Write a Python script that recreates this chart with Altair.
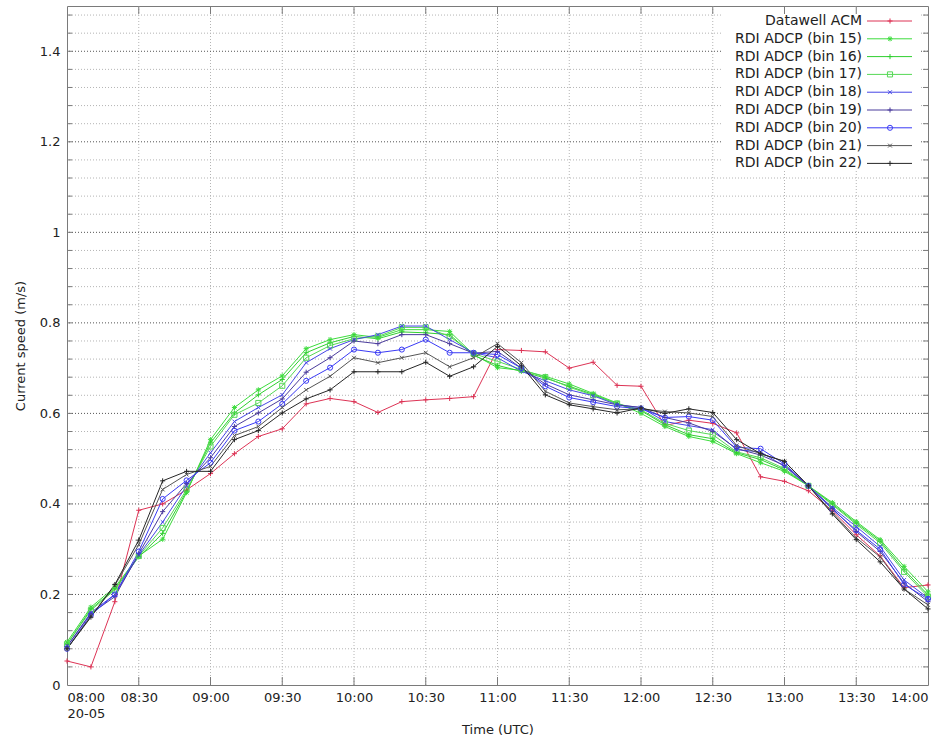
import altair as alt
import pandas as pd

# 10-minute sampling, 08:00-14:00 on 20 May
times = pd.date_range("2010-05-20 08:00", "2010-05-20 14:00", freq="10min")
tick_times = pd.date_range("2010-05-20 08:00", "2010-05-20 14:00", freq="30min")

series_names = [
    "Datawell ACM",
    "RDI ADCP (bin 15)",
    "RDI ADCP (bin 16)",
    "RDI ADCP (bin 17)",
    "RDI ADCP (bin 18)",
    "RDI ADCP (bin 19)",
    "RDI ADCP (bin 20)",
    "RDI ADCP (bin 21)",
    "RDI ADCP (bin 22)",
]
series_colors = ["#dd3355", "#3ddc3d", "#2fcf2f", "#55d855", "#4646e6",
                 "#4b3c9c", "#3a3af5", "#555555", "#262626"]

PLUS = "M-1,0L1,0M0,-1L0,1"
CROSS = "M-0.75,-0.75L0.75,0.75M-0.75,0.75L0.75,-0.75"
STAR = PLUS + CROSS
series_shapes = [PLUS, STAR, PLUS, "square", CROSS, PLUS, "circle", CROSS, PLUS]

# current speed (m/s)
acm = [0.053, 0.040, 0.184, 0.386, 0.400, 0.431, 0.467, 0.511, 0.549, 0.566,
       0.621, 0.633, 0.626, 0.602, 0.626, 0.630, 0.633, 0.637, 0.741, 0.739,
       0.736, 0.700, 0.713, 0.662, 0.660, 0.573, 0.585, 0.578, 0.557, 0.460,
       0.450, 0.429, 0.385, 0.332, 0.285, 0.215, 0.221]
bin15 = [0.095, 0.172, 0.216, 0.285, 0.322, 0.425, 0.542, 0.613, 0.652, 0.683,
         0.743, 0.763, 0.774, 0.768, 0.785, 0.785, 0.781, 0.730, 0.701, 0.695,
         0.682, 0.665, 0.644, 0.623, 0.600, 0.571, 0.549, 0.538, 0.511, 0.491,
         0.472, 0.440, 0.403, 0.361, 0.321, 0.262, 0.206]
bin16 = [0.090, 0.168, 0.212, 0.283, 0.335, 0.428, 0.535, 0.601, 0.641, 0.675,
         0.734, 0.756, 0.770, 0.765, 0.780, 0.778, 0.774, 0.728, 0.706, 0.693,
         0.678, 0.660, 0.642, 0.621, 0.606, 0.575, 0.553, 0.544, 0.513, 0.498,
         0.475, 0.440, 0.400, 0.358, 0.318, 0.255, 0.199]
bin17 = [0.090, 0.165, 0.210, 0.285, 0.347, 0.432, 0.527, 0.597, 0.623, 0.661,
         0.723, 0.750, 0.765, 0.770, 0.790, 0.790, 0.770, 0.732, 0.715, 0.697,
         0.680, 0.658, 0.640, 0.622, 0.608, 0.578, 0.562, 0.553, 0.515, 0.502,
         0.478, 0.440, 0.398, 0.355, 0.314, 0.250, 0.195]
bin18 = [0.085, 0.160, 0.200, 0.287, 0.360, 0.440, 0.513, 0.582, 0.613, 0.641,
         0.712, 0.743, 0.763, 0.774, 0.793, 0.793, 0.763, 0.734, 0.723, 0.693,
         0.672, 0.652, 0.639, 0.619, 0.613, 0.582, 0.573, 0.564, 0.520, 0.515,
         0.483, 0.440, 0.392, 0.350, 0.306, 0.232, 0.192]
bin19 = [0.085, 0.158, 0.195, 0.290, 0.383, 0.445, 0.502, 0.571, 0.601, 0.632,
         0.691, 0.723, 0.760, 0.754, 0.774, 0.774, 0.754, 0.733, 0.737, 0.700,
         0.665, 0.641, 0.630, 0.619, 0.613, 0.591, 0.579, 0.560, 0.522, 0.508,
         0.485, 0.440, 0.390, 0.339, 0.295, 0.225, 0.184]
bin20 = [0.080, 0.155, 0.200, 0.295, 0.411, 0.452, 0.491, 0.562, 0.582, 0.621,
         0.672, 0.701, 0.741, 0.734, 0.741, 0.763, 0.734, 0.734, 0.730, 0.700,
         0.660, 0.635, 0.625, 0.615, 0.610, 0.591, 0.593, 0.585, 0.525, 0.522,
         0.488, 0.440, 0.388, 0.342, 0.300, 0.222, 0.190]
bin21 = [0.080, 0.152, 0.220, 0.310, 0.432, 0.465, 0.483, 0.551, 0.571, 0.613,
         0.652, 0.682, 0.723, 0.712, 0.723, 0.734, 0.703, 0.723, 0.754, 0.712,
         0.649, 0.623, 0.615, 0.608, 0.610, 0.604, 0.601, 0.593, 0.529, 0.511,
         0.494, 0.440, 0.381, 0.325, 0.283, 0.212, 0.177]
bin22 = [0.080, 0.150, 0.222, 0.320, 0.451, 0.472, 0.472, 0.542, 0.562, 0.601,
         0.632, 0.652, 0.692, 0.692, 0.692, 0.713, 0.682, 0.703, 0.748, 0.705,
         0.641, 0.619, 0.610, 0.601, 0.612, 0.600, 0.610, 0.602, 0.542, 0.511,
         0.494, 0.440, 0.378, 0.321, 0.272, 0.212, 0.168]

speeds = [acm, bin15, bin16, bin17, bin18, bin19, bin20, bin21, bin22]

y_labels = [0, 0.2, 0.4, 0.6, 0.8, 1.0, 1.2, 1.4]
y_fine = [round(0.04 * k, 2) for k in range(1, 38)]
y_minor = [v for v in y_fine if round(v / 0.2, 6) % 1 != 0]
y_major = [v for v in y_fine if round(v / 0.2, 6) % 1 == 0]

rows = []
for name, vals in zip(series_names, speeds):
    for t, v in zip(times, vals):
        rows.append({"series": name, "t": t, "v": v})
df = pd.DataFrame(rows)

W, H = 861, 679
FONT = "DejaVu Sans"
FRAME = "#7a7a7a"


def dt(ts):
    return alt.DateTime(year=ts.year, month=ts.month, date=ts.day,
                        hours=ts.hour, minutes=ts.minute)


x_scale = alt.Scale(domain=[dt(times[0]), dt(times[-1])])
y_scale = alt.Scale(domain=[0, 1.5], nice=False, zero=True)

x_axis = alt.Axis(
    values=[dt(t) for t in tick_times],
    labelExpr="timeFormat(datum.value, '%H:%M') == '08:00' ? "
              "['08:00', timeFormat(datum.value, '%d-%m')] : "
              "timeFormat(datum.value, '%H:%M')",
    grid=False, ticks=False, domain=False,
    labelPadding=6, labelFont=FONT, labelFontSize=13, labelColor="#222",
    labelLineHeight=16, labelBaseline="top",
    title="Time (UTC)", titleFont=FONT, titleFontSize=13,
    titleFontWeight="normal", titleColor="#222", titlePadding=3,
)
y_axis = alt.Axis(
    values=y_labels, format="~g",
    grid=False, ticks=False, domain=False,
    labelPadding=7, labelFont=FONT, labelFontSize=13, labelColor="#222",
    title="Current speed (m/s)", titleFont=FONT, titleFontSize=13,
    titleFontWeight="normal", titleColor="#222", titlePadding=12,
)

X = alt.X("t:T", scale=x_scale, axis=x_axis)
Y = alt.Y("v:Q", scale=y_scale, axis=y_axis)

vgrid = alt.Chart(pd.DataFrame({"t": tick_times[1:-1]})).mark_rule(
    color="#b4b4b4", strokeDash=[1, 2], strokeWidth=1).encode(x=X)
hgrid_minor = alt.Chart(pd.DataFrame({"v": y_minor})).mark_rule(
    color="#b4b4b4", strokeDash=[1, 2], strokeWidth=1).encode(y=Y)
hgrid_major = alt.Chart(pd.DataFrame({"v": y_major})).mark_rule(
    color="#555555", strokeDash=[1, 2], strokeWidth=1).encode(y=Y)

# opaque key background
key_box = alt.Chart(pd.DataFrame({"k": [0]})).mark_rect(color="white").encode(
    x=alt.value(656), x2=alt.value(852), y=alt.value(2), y2=alt.value(164))

# inward tick marks on all four sides
tick_y = pd.DataFrame({"v": y_fine})
tick_x = pd.DataFrame({"t": tick_times[1:-1]})
ticks_left = alt.Chart(tick_y).mark_rule(color=FRAME).encode(
    y=Y, x=alt.value(0), x2=alt.value(5))
ticks_right = alt.Chart(tick_y).mark_rule(color=FRAME).encode(
    y=Y, x=alt.value(W - 5), x2=alt.value(W))
ticks_bottom = alt.Chart(tick_x).mark_rule(color=FRAME).encode(
    x=X, y=alt.value(H - 8), y2=alt.value(H))
ticks_top = alt.Chart(tick_x).mark_rule(color=FRAME).encode(
    x=X, y=alt.value(0), y2=alt.value(8))

color = alt.Color("series:N", scale=alt.Scale(domain=series_names, range=series_colors),
                  legend=None)
shape = alt.Shape("series:N", scale=alt.Scale(domain=series_names, range=series_shapes),
                  legend=None)

lines = alt.Chart(df).mark_line(strokeWidth=1, clip=True).encode(
    x=X, y=Y, color=color, detail="series:N")
points = alt.Chart(df).mark_point(filled=False, size=26, strokeWidth=1, opacity=1).encode(
    x=X, y=Y, color=color, shape=shape)

plot = alt.layer(vgrid, hgrid_minor, hgrid_major, key_box,
                 ticks_left, ticks_right, ticks_bottom, ticks_top,
                 lines, points)

# key: text right-aligned, line sample with marker to its right
key_df = pd.DataFrame({"series": series_names, "row": list(range(len(series_names)))})
KY = alt.Y("row:Q", axis=None,
           scale=alt.Scale(domain=[-0.843, 37.303], nice=False, zero=False, reverse=True))
key_line = alt.Chart(key_df).mark_rule(strokeWidth=1).encode(
    y=KY, x=alt.value(800), x2=alt.value(845), color=color)
key_mark = alt.Chart(key_df).mark_point(filled=False, size=26, strokeWidth=1, opacity=1).encode(
    y=KY, x=alt.value(823), color=color, shape=shape)
key_text = alt.Chart(key_df).mark_text(
    align="right", baseline="middle", font=FONT, fontSize=14, color="#222").encode(
    y=KY, x=alt.value(795), text="series:N")
key = alt.layer(key_line, key_mark, key_text)

chart = alt.layer(plot, key).resolve_scale(y="independent").properties(
    width=W, height=H,
    padding={"left": 67, "top": 6, "right": 19, "bottom": 53},
    autosize=alt.AutoSizeParams(type="none"),
    background="white",
).configure_view(stroke=FRAME, strokeWidth=1)

chart.save("out.html", embed_options={"renderer": "svg", "actions": False})
